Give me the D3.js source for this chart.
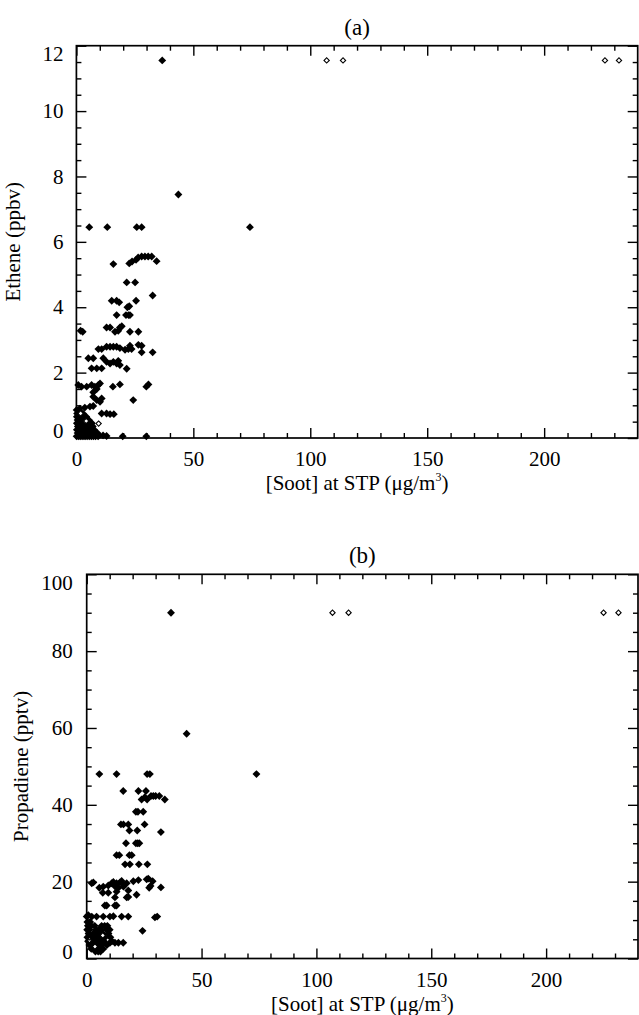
<!DOCTYPE html>
<html>
<head>
<meta charset="utf-8">
<script src="https://cdn.jsdelivr.net/npm/d3@7"></script>
<style>
  body { margin: 0; background: #fff; }
  text { font-family: "Liberation Serif", "Times New Roman", serif; fill: #000; }
</style>
</head>
<body>
<script>
// shared x axis: soot mass at STP
const sootDomain = [0, 240]
const sootMajor = [0, 50, 100, 150, 200]
const sootMinor = [10, 20, 30, 40, 60, 70, 80, 90, 110, 120, 130, 140, 160, 170, 180, 190, 210, 220, 230]

// (a) ethene, ppbv
const etheneMajor = [0, 2, 4, 6, 8, 10, 12]
const etheneMinor = [0.5, 1, 1.5, 2.5, 3, 3.5, 4.5, 5, 5.5, 6.5, 7, 7.5, 8.5, 9, 9.5, 10.5, 11, 11.5]
const etheneFilled = [
  [36.7, 11.55],
  [43.6, 7.45],
  [5.5, 6.45], [13.2, 6.45], [25.8, 6.45], [27.9, 6.45], [74.2, 6.45],
  [15.8, 5.32],
  [22.6, 5.34], [23.8, 5.40], [25.5, 5.45], [26.4, 5.52], [27.9, 5.55], [29.3, 5.55], [30.7, 5.55], [32.2, 5.55],
  [34.3, 5.41],
  [21.5, 4.76], [25.1, 4.76],
  [32.6, 4.36],
  [15.1, 4.20], [17.2, 4.20], [18.3, 4.15], [25.5, 4.20],
  [21.8, 4.00], [22.6, 4.03],
  [17.2, 3.76], [21.2, 3.76], [22.3, 3.76], [22.9, 3.76],
  [1.8, 3.28], [2.7, 3.25],
  [12.9, 3.38], [14.4, 3.38], [18.6, 3.38], [19.4, 3.42], [22.9, 3.25], [26.5, 3.25], [16.5, 3.25], [17.9, 3.28],
  [5.1, 2.44], [7.2, 2.44], [11.5, 2.44],
  [12.9, 2.79], [14.4, 2.79], [15.8, 2.79], [17.2, 2.79], [18.6, 2.75],
  [20.8, 2.70], [22.2, 2.72], [23.6, 2.72], [22.9, 2.82], [26.5, 2.85], [27.9, 2.82], [27.9, 2.62], [32.6, 2.62],
  [9.4, 2.72], [10.8, 2.72],
  [6.5, 2.13], [8.7, 2.13], [10.8, 2.13],
  [12.9, 2.33], [14.4, 2.28], [15.8, 2.33], [17.2, 2.28], [18.6, 2.23], [17.9, 2.36],
  [21.5, 2.12],
  [0.8, 1.62], [2.2, 1.57], [4.4, 1.57], [6.5, 1.62], [7.9, 1.57], [9.4, 1.62], [10.1, 1.67],
  [7.2, 1.26], [8.7, 1.16], [10.1, 1.11], [10.8, 1.21], [7.2, 1.40], [8.7, 1.50],
  [15.6, 1.57], [18.6, 1.64],
  [29.9, 1.57], [30.8, 1.64],
  [24.3, 1.16],
  [0.1, 0.86], [1.5, 0.90], [3.6, 0.93], [5.8, 0.96], [7.2, 0.98],
  [10.8, 0.75], [12.9, 0.75], [14.4, 0.73], [16.0, 0.73],
  [11.4, 0.08], [12.9, 0.06], [19.8, 0.05], [29.9, 0.05],
  [0.3, 0.75], [1.2, 0.75], [2.0, 0.75], [2.8, 0.75],
  [0.2, 0.65], [1.0, 0.65], [1.8, 0.65], [2.6, 0.65], [3.4, 0.65], [4.2, 0.65],
  [0.5, 0.55], [1.4, 0.55], [2.3, 0.55], [4.5, 0.55], [5.3, 0.55],
  [0.2, 0.45], [1.1, 0.45], [2.0, 0.45], [4.8, 0.45], [5.8, 0.45], [6.6, 0.45],
  [0.6, 0.35], [1.5, 0.35], [2.4, 0.35], [3.3, 0.35], [5.2, 0.35], [6.2, 0.35], [7.0, 0.35],
  [0.2, 0.25], [1.1, 0.25], [2.0, 0.25], [2.9, 0.25], [3.8, 0.25], [4.7, 0.25], [5.6, 0.25], [6.5, 0.25], [7.6, 0.25],
  [0.5, 0.15], [1.4, 0.15], [2.3, 0.15], [3.2, 0.15], [4.1, 0.15], [5.0, 0.15], [5.9, 0.15], [6.8, 0.15], [8.0, 0.15], [9.0, 0.15],
  [0.1, 0.05], [1.0, 0.05], [1.9, 0.05], [2.8, 0.05], [3.7, 0.05], [4.6, 0.05], [5.5, 0.05], [6.4, 0.05], [7.3, 0.05], [8.2, 0.05], [9.3, 0.05]
]
const etheneOpen = [[107, 11.55], [114, 11.55], [226, 11.55], [232, 11.55], [9.5, 0.44], [1.8, 0.75], [4.2, 0.52]]

// (b) propadiene, pptv
const propMajor = [0, 20, 40, 60, 80, 100]
const propMinor = [5, 10, 15, 25, 30, 35, 45, 50, 55, 65, 70, 75, 85, 90, 95]
const propFilled = [
  [36.7, 90.0],
  [43.5, 58.5],
  [5.5, 48.0], [13.0, 48.0], [26.3, 48.0], [27.5, 48.0], [73.9, 48.0],
  [15.9, 43.6], [22.5, 43.6], [25.8, 43.6],
  [23.9, 41.4], [25.3, 42.0], [26.3, 41.4], [28.0, 42.3], [29.0, 42.3], [30.0, 42.3], [31.6, 42.3], [34.0, 41.4],
  [21.4, 38.2], [22.3, 38.2], [24.6, 38.2],
  [14.9, 34.9], [16.0, 34.9], [18.1, 34.9], [25.2, 34.9],
  [18.6, 33.3], [22.0, 33.3], [32.3, 32.9],
  [17.1, 30.0], [21.4, 30.0], [22.2, 30.0], [22.9, 30.0],
  [13.0, 26.9], [14.2, 26.9], [18.6, 26.9], [19.6, 26.9],
  [16.7, 24.5], [18.8, 24.5], [22.7, 24.5], [26.4, 24.5],
  [2.2, 19.6], [2.9, 19.8], [5.5, 18.4], [7.2, 18.7], [9.4, 19.0], [10.9, 19.6], [11.6, 19.9], [12.3, 18.8],
  [13.0, 19.6], [13.8, 18.4], [14.5, 19.8], [15.2, 20.2], [15.9, 19.3], [16.0, 18.7], [17.4, 19.6], [20.3, 20.1],
  [22.5, 20.4], [26.1, 20.6], [26.8, 20.8], [28.7, 20.1], [27.8, 18.9], [27.2, 18.4], [32.3, 18.5],
  [7.0, 17.1], [9.4, 17.1], [13.0, 17.4], [18.1, 17.7], [21.7, 16.6],
  [12.3, 15.9], [17.4, 15.9], [18.1, 16.0],
  [7.9, 13.8], [8.7, 13.8], [12.3, 13.8], [13.0, 13.8],
  [0.7, 11.3], [0.0, 10.9], [2.2, 10.9], [4.3, 10.9], [7.2, 10.9], [10.1, 10.9], [11.6, 11.0], [15.2, 10.9], [18.1, 10.9], [29.7, 10.7], [30.7, 10.9],
  [24.3, 7.2],
  [10.1, 4.1], [12.3, 4.1], [13.8, 4.1], [15.9, 4.1],
  [0.3, 9.5], [1.5, 9.5],
  [0.5, 8.5], [2.0, 8.5], [3.5, 8.5], [6.5, 8.5], [7.8, 8.5], [9.0, 8.5],
  [0.2, 7.5], [1.3, 7.5], [4.0, 7.5], [5.2, 7.5], [6.4, 7.5], [8.7, 7.5], [10.0, 7.5],
  [0.8, 6.5], [3.0, 6.5], [4.3, 6.5], [5.5, 6.5], [7.0, 6.5], [9.5, 6.5],
  [0.3, 5.5], [1.8, 5.5], [3.5, 5.5], [4.8, 5.5], [6.2, 5.5], [8.0, 5.5], [10.3, 5.5],
  [0.6, 4.5], [2.2, 4.5], [3.3, 4.5], [4.6, 4.5], [5.9, 4.5], [7.5, 4.5], [11.0, 4.5],
  [1.2, 3.5], [2.5, 3.5], [3.8, 3.5], [5.0, 3.5], [6.6, 3.5], [8.8, 3.5],
  [2.0, 2.5], [3.4, 2.5], [4.5, 2.5], [5.8, 2.5], [7.2, 2.5],
  [3.8, 1.8], [5.0, 1.8], [6.0, 1.8]
]
const propOpen = [[107, 90], [114, 90], [225, 90], [231.5, 90], [1.2, 4.8], [7.0, 6.0], [3.6, 3.1]]

const svg = d3.select('body').append('svg')
  .attr('width', 639)
  .attr('height', 1015)

const filledShape = d3.symbol(d3.symbolSquare, 31)()
const openShape = d3.symbol(d3.symbolSquare, 14)()

function drawPanel (p) {
  const x = d3.scaleLinear().domain(sootDomain).range([0, p.width])
  const y = d3.scaleLinear().domain([0, p.yMax]).range([p.height, 0])

  const g = svg.append('g').attr('transform', `translate(${p.left},${p.top})`)

  // points: filled first, open ones on top
  g.selectAll('.pf').data(p.filled).join('path')
    .attr('d', filledShape)
    .attr('transform', d => `translate(${x(d[0])},${y(d[1])}) rotate(45)`)
    .attr('fill', '#000')

  g.selectAll('.po').data(p.open).join('path')
    .attr('d', openShape)
    .attr('transform', d => `translate(${x(d[0])},${y(d[1])}) rotate(45)`)
    .attr('fill', '#fff')
    .attr('stroke', '#000')
    .attr('stroke-width', 1.1)

  const style = sel => {
    sel.select('.domain').remove()
    sel.selectAll('line').attr('stroke', '#000').attr('stroke-width', 1.4)
    sel.selectAll('text').style('font-size', '21px').attr('fill', '#000')
  }

  // major ticks with labels (bottom, left), plain ticks on top/right
  g.append('g').attr('transform', `translate(0,${p.height})`)
    .call(d3.axisBottom(x).tickValues(sootMajor).tickSize(-10).tickPadding(p.xPad).tickFormat(d3.format('d')))
    .call(style)
  g.append('g')
    .call(d3.axisTop(x).tickValues(sootMajor).tickSize(-10).tickFormat(''))
    .call(style)
  g.append('g')
    .call(d3.axisLeft(y).tickValues(p.yMajor).tickSize(-10).tickPadding(p.yPad).tickFormat(d3.format('d')))
    .call(style)
    .call(a => a.selectAll('.tick text')
      .attr('transform', d => d === 0 ? 'translate(0,-7)' : d === p.yMax ? 'translate(0,8)' : null))
  g.append('g').attr('transform', `translate(${p.width},0)`)
    .call(d3.axisRight(y).tickValues(p.yMajor).tickSize(-10).tickFormat(''))
    .call(style)

  // minor ticks
  g.append('g').attr('transform', `translate(0,${p.height})`)
    .call(d3.axisBottom(x).tickValues(sootMinor).tickSize(-5).tickFormat(''))
    .call(style)
  g.append('g')
    .call(d3.axisTop(x).tickValues(sootMinor).tickSize(-5).tickFormat(''))
    .call(style)
  g.append('g')
    .call(d3.axisLeft(y).tickValues(p.yMinor).tickSize(-5).tickFormat(''))
    .call(style)
  g.append('g').attr('transform', `translate(${p.width},0)`)
    .call(d3.axisRight(y).tickValues(p.yMinor).tickSize(-5).tickFormat(''))
    .call(style)

  // frame
  g.append('rect')
    .attr('width', p.width)
    .attr('height', p.height)
    .attr('fill', 'none')
    .attr('stroke', '#000')
    .attr('stroke-width', 1.7)

  // panel title
  g.append('text')
    .attr('x', p.width / 2)
    .attr('y', -11)
    .attr('text-anchor', 'middle')
    .style('font-size', '23px')
    .text(p.title)

  // x axis title
  const xt = g.append('text')
    .attr('x', p.width / 2)
    .attr('y', p.height + 52.5)
    .attr('text-anchor', 'middle')
    .style('font-size', '21px')
  xt.append('tspan').text('[Soot] at STP (μg/m')
  xt.append('tspan').attr('dy', -9).style('font-size', '12px').text('3')
  xt.append('tspan').attr('dy', 9).text(')')

  // y axis title
  g.append('text')
    .attr('transform', `translate(${p.yTitleX - p.left},${p.height / 2}) rotate(-90)`)
    .attr('text-anchor', 'middle')
    .style('font-size', '21px')
    .text(p.yLabel)
}

drawPanel({
  left: 76.4, top: 45.7, width: 561.3, height: 392.3,
  yMax: 12, yMajor: etheneMajor, yMinor: etheneMinor,
  filled: etheneFilled, open: etheneOpen,
  title: '(a)', yLabel: 'Ethene (ppbv)', yTitleX: 20, xPad: 13, yPad: 13
})

drawPanel({
  left: 86.7, top: 574.3, width: 551.3, height: 384.2,
  yMax: 100, yMajor: propMajor, yMinor: propMinor,
  filled: propFilled, open: propOpen,
  title: '(b)', yLabel: 'Propadiene (pptv)', yTitleX: 28, xPad: 13.5, yPad: 14
})
</script>
</body>
</html>
